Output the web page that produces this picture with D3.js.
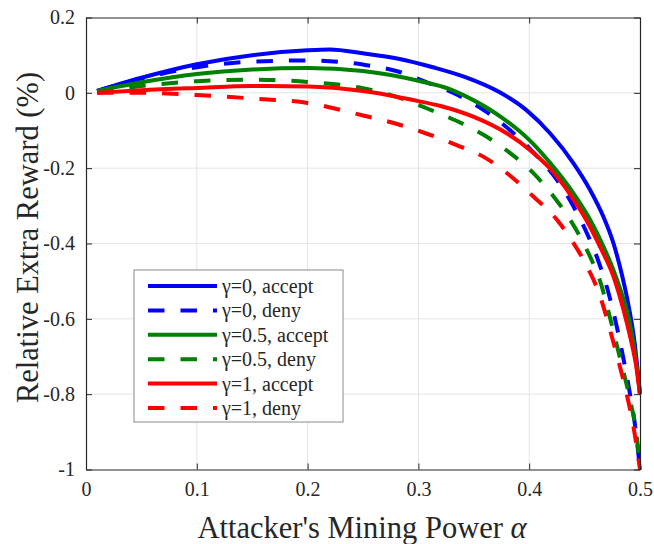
<!DOCTYPE html>
<html>
<head>
<meta charset="utf-8">
<script src="https://cdn.jsdelivr.net/npm/d3@7/dist/d3.min.js"></script>
<style>
  html, body { margin: 0; padding: 0; background: #ffffff; }
  svg { display: block; }
</style>
</head>
<body>
<svg id="chart" width="654" height="544"></svg>
<script>
// Tick values for both axes
const alphaTicks = [0, 0.1, 0.2, 0.3, 0.4, 0.5];
const rewardTicks = [0.2, 0, -0.2, -0.4, -0.6, -0.8, -1];

// Legend labels, in drawing order
const seriesLabels = [
  "γ=0, accept", "γ=0, deny",
  "γ=0.5, accept", "γ=0.5, deny",
  "γ=1, accept", "γ=1, deny"
];

// Relative extra reward (%) against attacker's mining power alpha: [alpha, reward]
const gamma0Accept = [
  [0.01, 0.005], [0.05, 0.04], [0.1, 0.076], [0.15, 0.1], [0.2, 0.113], [0.22, 0.115],
  [0.25, 0.105], [0.283, 0.09], [0.313, 0.068], [0.343, 0.041], [0.373, 0.002],
  [0.3975, -0.046], [0.419, -0.108], [0.44, -0.187], [0.455, -0.258], [0.467, -0.329],
  [0.476, -0.399], [0.484, -0.487], [0.49, -0.57], [0.495, -0.66], [0.5, -0.8]
];
const gamma0Deny = [
  [0.01, 0.005], [0.05, 0.038], [0.1, 0.068], [0.15, 0.083], [0.2, 0.086], [0.25, 0.075],
  [0.28, 0.058], [0.31, 0.025], [0.335, -0.005], [0.36, -0.048], [0.385, -0.105],
  [0.407, -0.168], [0.425, -0.231], [0.44, -0.302], [0.452, -0.372], [0.462, -0.443],
  [0.47, -0.515], [0.479, -0.62], [0.485, -0.705], [0.491, -0.8], [0.496, -0.893],
  [0.5, -1.0]
];
const gammaHalfAccept = [
  [0.01, 0.005], [0.05, 0.028], [0.1, 0.05], [0.15, 0.062], [0.2, 0.066], [0.25, 0.058],
  [0.3, 0.032], [0.33, 0.008], [0.35, -0.02], [0.375, -0.065], [0.4, -0.125], [0.42, -0.19],
  [0.44, -0.267], [0.455, -0.337], [0.467, -0.408], [0.476, -0.47], [0.482, -0.52],
  [0.49, -0.6], [0.495, -0.68], [0.5, -0.8]
];
const gammaHalfDeny = [
  [0.01, 0.002], [0.05, 0.018], [0.1, 0.031], [0.15, 0.035], [0.2, 0.029], [0.25, 0.012],
  [0.28, -0.01], [0.305, -0.038], [0.331, -0.07], [0.358, -0.11], [0.382, -0.158],
  [0.404, -0.214], [0.422, -0.275], [0.437, -0.337], [0.45, -0.405], [0.458, -0.455],
  [0.464, -0.5], [0.473, -0.598], [0.482, -0.705], [0.491, -0.815], [0.497, -0.911],
  [0.5, -1.0]
];
const gamma1Accept = [
  [0.01, 0.0], [0.05, 0.007], [0.1, 0.013], [0.15, 0.018], [0.2, 0.017], [0.25, 0.005],
  [0.3, -0.022], [0.32, -0.035], [0.35, -0.064], [0.38, -0.108], [0.4, -0.15],
  [0.42, -0.205], [0.437, -0.27], [0.452, -0.34], [0.465, -0.415], [0.476, -0.487],
  [0.485, -0.575], [0.491, -0.646], [0.496, -0.716], [0.5, -0.8]
];
const gamma1Deny = [
  [0.01, 0.0], [0.05, 0.0], [0.1, -0.006], [0.15, -0.015], [0.2, -0.027], [0.25, -0.06],
  [0.28, -0.082], [0.307, -0.108], [0.334, -0.138], [0.36, -0.172], [0.382, -0.218],
  [0.404, -0.276], [0.425, -0.337], [0.44, -0.399], [0.452, -0.46], [0.464, -0.54],
  [0.473, -0.63], [0.479, -0.695], [0.488, -0.8], [0.494, -0.885], [0.5, -1.0]
];

const seriesData = [gamma0Accept, gamma0Deny, gammaHalfAccept, gammaHalfDeny, gamma1Accept, gamma1Deny];

// Line styles per series
const seriesColors = ["#0000ff", "#0000ff", "#008000", "#008000", "#ff0000", "#ff0000"];
const seriesDash = [null, "16.5,16", null, "16.5,16", null, "16.5,16"];

const plot = { left: 86, right: 640, top: 17.5, bottom: 469.5 };
const serif = "'Liberation Serif', 'Times New Roman', serif";
const axisColor = "#262626";

const svg = d3.select("#chart");

const x = d3.scaleLinear().domain([0, 0.5]).range([plot.left, plot.right]);
const y = d3.scaleLinear().domain([-1, 0.2]).range([plot.bottom, plot.top]);

// Tick text in the plain hyphen style ("-0.2", "-1")
const fmt = v => (Math.abs(v) < 1e-9 ? "0" : String(+v.toFixed(1)));

// Grid
const grid = svg.append("g");
grid.selectAll("line.gx").data(alphaTicks.slice(1, -1)).join("line")
  .attr("x1", d => x(d)).attr("x2", d => x(d))
  .attr("y1", plot.top).attr("y2", plot.bottom)
  .attr("stroke", "#e4e4e4").attr("stroke-width", 1);
grid.selectAll("line.gy").data(rewardTicks.filter(v => v < 0.2 && v > -1)).join("line")
  .attr("y1", d => y(d)).attr("y2", d => y(d))
  .attr("x1", plot.left).attr("x2", plot.right)
  .attr("stroke", "#e4e4e4").attr("stroke-width", 1);

// Curves
const line = d3.line()
  .x(d => x(d[0]))
  .y(d => y(d[1]))
  .curve(d3.curveMonotoneX);

svg.append("defs").append("clipPath").attr("id", "plotClip")
  .append("rect")
  .attr("x", plot.left).attr("y", plot.top - 4)
  .attr("width", plot.right - plot.left + 4).attr("height", plot.bottom - plot.top + 8);

const curves = svg.append("g").attr("clip-path", "url(#plotClip)");
seriesData.forEach((data, i) => {
  curves.append("path")
    .datum(data)
    .attr("d", line)
    .attr("fill", "none")
    .attr("stroke", seriesColors[i])
    .attr("stroke-width", 4)
    .attr("stroke-dasharray", seriesDash[i])
    .attr("stroke-linejoin", "round");
});

// Axes (box with inward ticks on all sides)
const tickLen = 6;

const xBottom = d3.axisBottom(x).tickValues(alphaTicks).tickFormat(fmt).tickSizeInner(-tickLen).tickSizeOuter(0).tickPadding(12);
const xTop = d3.axisTop(x).tickValues(alphaTicks).tickFormat("").tickSizeInner(-tickLen).tickSizeOuter(0);
const yLeft = d3.axisLeft(y).tickValues(rewardTicks).tickFormat(fmt).tickSizeInner(-tickLen).tickSizeOuter(0).tickPadding(11);
const yRight = d3.axisRight(y).tickValues(rewardTicks).tickFormat("").tickSizeInner(-tickLen).tickSizeOuter(0);

function styleAxis(g) {
  g.select(".domain").attr("stroke", axisColor).attr("stroke-width", 1.2);
  g.selectAll(".tick line").attr("stroke", axisColor).attr("stroke-width", 1);
  g.selectAll(".tick text").attr("fill", axisColor).attr("font-size", 20).attr("font-family", serif);
}

svg.append("g").attr("transform", `translate(0,${plot.bottom})`).call(xBottom).call(styleAxis);
svg.append("g").attr("transform", `translate(0,${plot.top})`).call(xTop).call(styleAxis);
svg.append("g").attr("transform", `translate(${plot.left},0)`).call(yLeft).call(styleAxis);
svg.append("g").attr("transform", `translate(${plot.right},0)`).call(yRight).call(styleAxis);

// Axis titles
const xTitle = svg.append("text")
  .attr("x", (plot.left + plot.right) / 2 - 1)
  .attr("y", 538)
  .attr("text-anchor", "middle")
  .attr("font-family", serif)
  .attr("font-size", 30.5)
  .attr("fill", "#262626");
xTitle.append("tspan").text("Attacker's Mining Power ");
xTitle.append("tspan").attr("font-style", "italic").text("α");

svg.append("text")
  .attr("transform", `translate(38,${(plot.top + plot.bottom) / 2 - 6}) rotate(-90)`)
  .attr("text-anchor", "middle")
  .attr("font-family", serif)
  .attr("font-size", 30.5)
  .attr("fill", "#262626")
  .text("Relative Extra Reward (%)");

// Legend
const legend = { left: 134, top: 270, width: 209, rowH: 24.4, firstRow: 286 };
const lg = svg.append("g");
lg.append("rect")
  .attr("x", legend.left).attr("y", legend.top)
  .attr("width", legend.width).attr("height", legend.firstRow - legend.top + legend.rowH * 5 + 14)
  .attr("fill", "#ffffff").attr("stroke", "#8a8a8a").attr("stroke-width", 1);

seriesLabels.forEach((label, i) => {
  const cy = legend.firstRow + i * legend.rowH;
  lg.append("line")
    .attr("x1", legend.left + 14).attr("x2", legend.left + 83)
    .attr("y1", cy).attr("y2", cy)
    .attr("stroke", seriesColors[i]).attr("stroke-width", 4)
    .attr("stroke-dasharray", seriesDash[i]);
  lg.append("text")
    .attr("x", legend.left + 88).attr("y", cy + 7)
    .attr("font-family", serif).attr("font-size", 20)
    .attr("fill", "#262626")
    .text(label);
});
</script>
</body>
</html>
